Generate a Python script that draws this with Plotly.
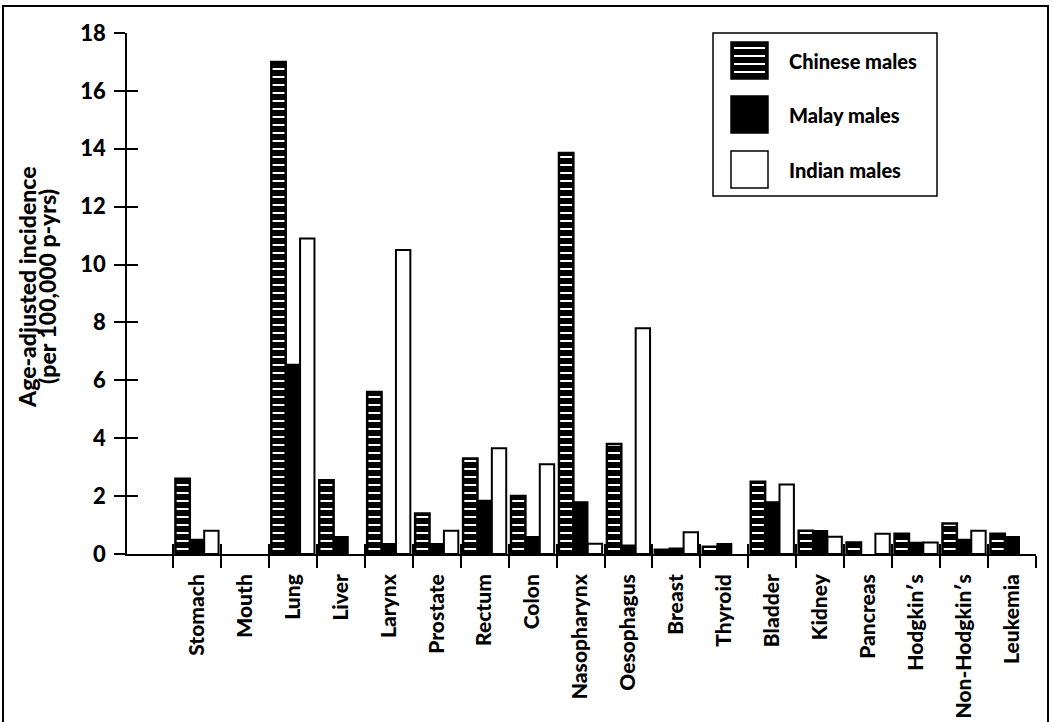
import plotly.graph_objects as go

# Cancer sites and age-adjusted incidence (per 100,000 person-years)
categories = ["Stomach", "Mouth", "Lung", "Liver", "Larynx", "Prostate", "Rectum",
              "Colon", "Nasopharynx", "Oesophagus", "Breast", "Thyroid", "Bladder",
              "Kidney", "Pancreas", "Hodgkin\u2032s", "Non-Hodgkin\u2032s", "Leukemia"]
chinese = [2.6, 0.0, 17.0, 2.55, 5.6, 1.4, 3.3, 2.0, 13.85, 3.8, 0.15, 0.25,
           2.5, 0.8, 0.4, 0.7, 1.05, 0.7]
malay = [0.5, 0.0, 6.55, 0.6, 0.35, 0.35, 1.85, 0.6, 1.8, 0.3, 0.2, 0.35,
         1.8, 0.8, 0.0, 0.4, 0.5, 0.6]
indian = [0.8, 0.0, 10.9, 0.0, 10.5, 0.8, 3.65, 3.1, 0.35, 7.8, 0.75, 0.0,
          2.4, 0.6, 0.7, 0.4, 0.8, 0.0]
y_ticks = [0, 2, 4, 6, 8, 10, 12, 14, 16, 18]
series_names = ["Chinese males", "Malay males", "Indian males"]

W, H = 1052, 722
PL, PT, PR, PB = 127, 33, 16, 168
PW, PH = W - PL - PR, H - PT - PB
FONT = "Lato"
WEIGHT = 900

def fx(p):
    return (p - PL) / PW

def fy(p):
    return (PT + PH - p) / PH

def outline(values, width):
    # no outline on empty bars so nothing is stroked along the baseline
    return [width if v > 0 else 0 for v in values]

idx = list(range(len(categories)))
bounds = [i - 0.5 for i in range(len(categories) + 1)]
x_range = [-1.46, len(categories) - 0.5]

fig = go.Figure()
fig.add_bar(
    x=idx, y=chinese, name=series_names[0], showlegend=False,
    marker=dict(color="black", line=dict(color="black", width=outline(chinese, 2.5)),
                pattern=dict(shape="-", fgcolor="white", bgcolor="black",
                             size=8, solidity=0.25, fillmode="replace")),
)
fig.add_bar(
    x=idx, y=malay, name=series_names[1], showlegend=False,
    marker=dict(color="black", line=dict(color="black", width=outline(malay, 1.5))),
)
fig.add_bar(
    x=idx, y=indian, name=series_names[2], showlegend=False,
    marker=dict(color="white", line=dict(color="black", width=outline(indian, 2))),
)
# empty trace so the overlaid tick axes (inner half of the crossing ticks) are drawn
fig.add_scatter(x=[], y=[], xaxis="x2", yaxis="y2", showlegend=False, hoverinfo="skip")

fig.update_layout(
    width=W, height=H,
    margin=dict(l=PL, r=PR, t=PT, b=PB, pad=0, autoexpand=False),
    paper_bgcolor="white", plot_bgcolor="white",
    barmode="group", bargap=0.1, bargroupgap=0,
    font=dict(family=FONT, color="black", weight=WEIGHT),
    xaxis=dict(
        range=x_range, tickmode="array", tickvals=idx, ticktext=categories,
        tickangle=-90, ticks="", ticklabelstandoff=10, automargin=False,
        tickfont=dict(family=FONT, size=21, color="black", weight=WEIGHT),
        showline=True, linecolor="black", linewidth=1.5,
        showgrid=False, zeroline=False,
        minor=dict(tickmode="array", tickvals=bounds, ticks="outside",
                   ticklen=12, tickwidth=1.5, tickcolor="black", showgrid=False),
    ),
    xaxis2=dict(
        overlaying="x", anchor="y", side="bottom", range=x_range, automargin=False,
        tickmode="array", tickvals=bounds, ticks="inside", ticklen=10,
        tickwidth=1.5, tickcolor="black", showticklabels=False,
        showline=False, showgrid=False, zeroline=False,
    ),
    yaxis=dict(
        range=[0, 18], tickmode="array", tickvals=y_ticks, ticks="outside",
        ticklen=11, tickwidth=1.5, tickcolor="black", automargin=False,
        tickfont=dict(family=FONT, size=22, color="black", weight=WEIGHT),
        ticklabelstandoff=4,
        showline=True, linecolor="black", linewidth=1.5,
        showgrid=False, zeroline=False,
    ),
    yaxis2=dict(
        overlaying="y", anchor="x", side="left", range=[0, 18], automargin=False,
        tickmode="array", tickvals=y_ticks, ticks="inside", ticklen=11,
        tickwidth=1.5, tickcolor="black", showticklabels=False,
        showline=False, showgrid=False, zeroline=False,
    ),
)

shapes = []
annotations = []

# outer frame
shapes.append(dict(type="rect", xref="paper", yref="paper",
                   x0=fx(3), x1=fx(1048), y0=fy(740), y1=fy(6),
                   line=dict(color="black", width=2), fillcolor="rgba(0,0,0,0)"))

# y-axis title, two lines
title_lines = ["Age-adjusted incidence", "(per 100,000 p-yrs)"]
for text, cx in zip(title_lines, [27, 47]):
    annotations.append(dict(xref="paper", yref="paper", x=fx(cx), y=fy(287),
                            text=text, textangle=-90, showarrow=False,
                            xanchor="center", yanchor="middle",
                            font=dict(family=FONT, size=23, color="black", weight=WEIGHT)))

# legend box
shapes.append(dict(type="rect", xref="paper", yref="paper",
                   x0=fx(713), x1=fx(937), y0=fy(196), y1=fy(33),
                   line=dict(color="black", width=1.5), fillcolor="white"))
sw_x0, sw_x1 = 731, 768
sw_tops = [42, 96, 151]
sw_size = 37
for k, (name, top) in enumerate(zip(series_names, sw_tops)):
    fill = "white" if k == 2 else "black"
    shapes.append(dict(type="rect", xref="paper", yref="paper",
                       x0=fx(sw_x0), x1=fx(sw_x1), y0=fy(top + sw_size), y1=fy(top),
                       line=dict(color="black", width=1.5), fillcolor=fill))
    if k == 0:
        for yy in range(top + 6, top + sw_size - 2, 8):
            shapes.append(dict(type="line", xref="paper", yref="paper",
                               x0=fx(sw_x0 + 3), x1=fx(sw_x1 - 3), y0=fy(yy), y1=fy(yy),
                               line=dict(color="white", width=2)))
    annotations.append(dict(xref="paper", yref="paper", x=fx(787), y=fy(top + sw_size / 2),
                            text=name, showarrow=False, xanchor="left", yanchor="middle",
                            font=dict(family=FONT, size=20, color="black", weight=WEIGHT)))

fig.update_layout(shapes=shapes, annotations=annotations)

fig.write_html("out.html")
